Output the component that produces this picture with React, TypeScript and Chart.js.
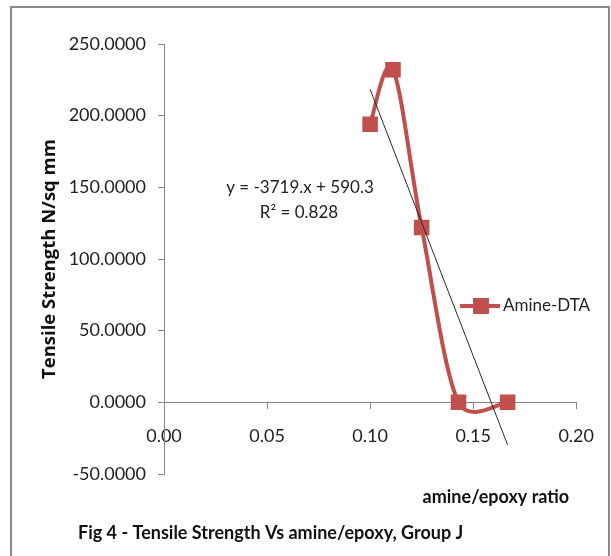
import { useEffect, useRef } from "react";
import { Chart, registerables } from "chart.js";

Chart.register(...registerables);

// Amine/epoxy ratio for each specimen of Group J
const ratios = [0.1, 0.1111, 0.125, 0.1429, 0.1667];
// Measured tensile strength, N/sq mm
const strength = [194, 232, 122, 0, 0];
// Linear fit reported on the chart
const fitSlope = -3719;
const fitIntercept = 590.3;
const fitR2 = 0.828;

const xMin = 0;
const xMax = 0.2;
const xStep = 0.05;
const yMin = -50;
const yMax = 250;
const yStep = 50;

const seriesName = "Amine-DTA";
const xTitle = "amine/epoxy ratio";
const yTitle = "Tensile Strength N/sq mm";
const caption = "Fig 4 - Tensile Strength Vs amine/epoxy, Group J";

const RED = "#C0504D";
const AXIS = "#878787";
const BODY = "Lato, 'Open Sans', sans-serif";
const WIDE = "'Open Sans', 'DejaVu Sans', sans-serif";

// Office-style smoothing: tangent = (next - prev) / 6, capped at half of the adjacent segment.
const officeSmoothing = {
  id: "officeSmoothing",
  beforeDatasetDraw(chart: Chart, args: any) {
    if (args.index !== 1) return;
    const meta: any = chart.getDatasetMeta(args.index);
    const line = meta.dataset;
    if (!line) return;
    line.updateControlPoints(chart.chartArea, "x");
    const pts: any[] = meta.data;
    const n = pts.length;
    for (let i = 0; i < n; i++) {
      const p = pts[i];
      const prev = pts[Math.max(0, i - 1)];
      const next = pts[Math.min(n - 1, i + 1)];
      const dx = next.x - prev.x;
      const dy = next.y - prev.y;
      const d02 = Math.hypot(dx, dy) || 1;
      const dPrev = Math.hypot(p.x - prev.x, p.y - prev.y);
      const dNext = Math.hypot(next.x - p.x, next.y - p.y);
      const inLen = Math.min(d02 / 6, dPrev > 0 ? dPrev / 2 : d02 / 6);
      const outLen = Math.min(d02 / 6, dNext > 0 ? dNext / 2 : d02 / 6);
      p.cp1x = p.x - (dx / d02) * inLen;
      p.cp1y = p.y - (dy / d02) * inLen;
      p.cp2x = p.x + (dx / d02) * outLen;
      p.cp2y = p.y + (dy / d02) * outLen;
    }
  },
};

const decorations = {
  id: "decorations",
  beforeDraw(chart: Chart) {
    const { ctx, width, height } = chart;
    ctx.save();
    ctx.fillStyle = "#ffffff";
    ctx.fillRect(0, 0, width, height);
    ctx.strokeStyle = "#8a8a8a";
    ctx.lineWidth = 2;
    ctx.strokeRect(11, 7, 598, height + 10);
    ctx.restore();
  },
  afterDraw(chart: Chart) {
    const { ctx } = chart;
    const x = chart.scales.x;
    ctx.save();

    // fit equation
    ctx.fillStyle = "#222";
    ctx.font = `17px ${BODY}`;
    ctx.textAlign = "center";
    ctx.textBaseline = "middle";
    ctx.fillText(`y = ${fitSlope}.x + ${fitIntercept}`, 300, 188);
    ctx.fillText(`R² = ${fitR2}`, 299, 213);

    // legend
    const ly = 306;
    ctx.strokeStyle = RED;
    ctx.lineWidth = 4;
    ctx.beginPath();
    ctx.moveTo(460, ly);
    ctx.lineTo(500, ly);
    ctx.stroke();
    ctx.fillStyle = RED;
    ctx.fillRect(481 - 8, ly - 8, 16, 16);
    ctx.fillStyle = "#222";
    ctx.textAlign = "left";
    ctx.font = `17px ${BODY}`;
    ctx.fillText(seriesName, 503, ly);

    // x axis title and caption
    ctx.fillStyle = "#111";
    ctx.font = `bold 18px ${BODY}`;
    ctx.textAlign = "right";
    ctx.fillText(xTitle, x.right - 7, 497);
    ctx.textAlign = "left";
    ctx.fillText(caption, 78, 533);
    ctx.restore();
  },
};

export default function App() {
  const canvasRef = useRef<HTMLCanvasElement | null>(null);

  useEffect(() => {
    const canvas = canvasRef.current;
    if (!canvas) return;

    const points = ratios.map((r, i) => ({ x: r, y: strength[i] }));
    const fitStart = ratios[0];
    const fitEnd = ratios[ratios.length - 1];
    const fitPoints = [fitStart, fitEnd].map((r) => ({ x: r, y: fitSlope * r + fitIntercept }));

    const chart = new Chart(canvas, {
      type: "line",
      data: {
        datasets: [
          {
            label: "Linear fit",
            data: fitPoints,
            borderColor: "#2a2a2a",
            borderWidth: 1,
            pointRadius: 0,
            tension: 0,
            order: 0,
          },
          {
            label: seriesName,
            data: points,
            borderColor: RED,
            backgroundColor: RED,
            borderWidth: 4,
            pointStyle: "rect",
            pointRadius: 11,
            pointBorderWidth: 0,
            tension: 0.4,
            order: 1,
          },
        ],
      },
      options: {
        animation: false,
        responsive: false,
        devicePixelRatio: 1,
        layout: { padding: { left: 20, top: 44, right: 28, bottom: 82 } },
        plugins: {
          legend: { display: false },
          tooltip: { enabled: false },
          title: { display: false },
        },
        scales: {
          x: {
            type: "linear",
            min: xMin,
            max: xMax,
            position: { y: 0 },
            ticks: {
              stepSize: xStep,
              color: "#222",
              font: { family: BODY, size: 18 },
              padding: 17,
              maxRotation: 0,
              callback: (v: any) => Number(v).toFixed(2),
            },
            grid: {
              drawOnChartArea: false,
              drawTicks: true,
              tickLength: 6,
              color: AXIS,
            },
            border: { color: AXIS, width: 1 },
          },
          y: {
            type: "linear",
            min: yMin,
            max: yMax,
            afterFit: (s: any) => {
              s.width = 144;
            },
            ticks: {
              stepSize: yStep,
              color: "#222",
              font: { family: BODY, size: 18 },
              padding: 12,
              callback: (v: any) => Number(v).toFixed(4),
            },
            grid: {
              drawOnChartArea: false,
              drawTicks: true,
              tickLength: 6,
              color: AXIS,
            },
            border: { color: AXIS, width: 1 },
            title: {
              display: true,
              text: yTitle,
              color: "#111",
              font: { family: WIDE, size: 18.5, weight: "bold" },
              padding: { top: 19, bottom: 0 },
            },
          },
        },
      },
      plugins: [officeSmoothing, decorations],
    });

    return () => chart.destroy();
  }, []);

  return (
    <canvas
      ref={canvasRef}
      width={611}
      height={556}
      style={{ position: "absolute", left: 0, top: 0, width: 611, height: 556, display: "block" }}
    />
  );
}
